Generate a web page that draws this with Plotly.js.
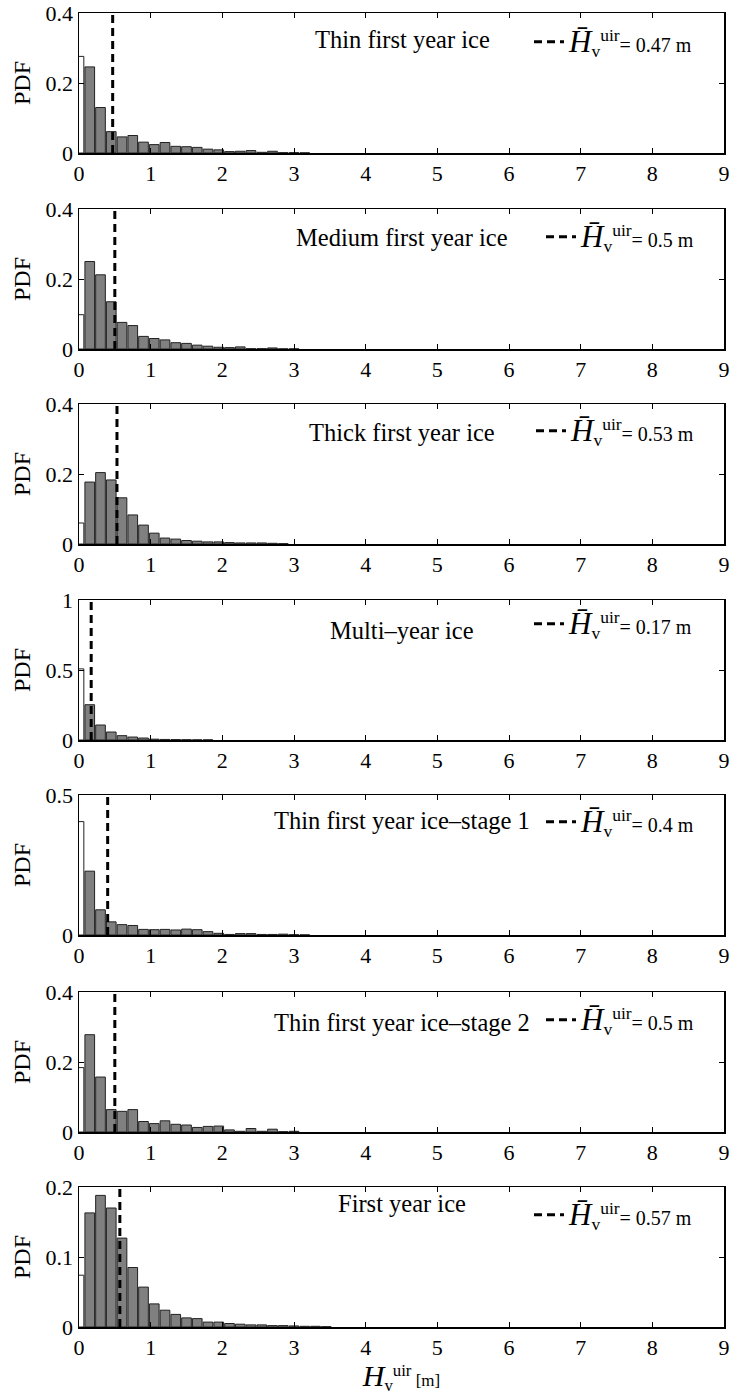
<!DOCTYPE html>
<html>
<head>
<meta charset="utf-8">
<script src="https://cdn.plot.ly/plotly-3.0.1.min.js"></script>
<style>html,body{margin:0;padding:0;background:#fff;}</style>
</head>
<body>
<div id="chart" style="width:736px;height:1395px;"></div>
<script>
// ---- data ----
const panelNames = [
  "Thin first year ice",
  "Medium first year ice",
  "Thick first year ice",
  "Multi–year ice",
  "Thin first year ice–stage 1",
  "Thin first year ice–stage 2",
  "First year ice"
];
const binStart = 0;      // centre of first bin [m]
const binStep = 0.15;    // bin width [m]
const pdfThinFYI = [0.276,0.246,0.130,0.061,0.046,0.050,0.031,0.024,0.030,0.019,0.018,0.016,0.011,0.009,0.004,0.005,0.007,0.002,0.005,0.001,0.001,0.0005];
const pdfMediumFYI = [0.098,0.250,0.212,0.135,0.076,0.067,0.036,0.030,0.026,0.018,0.016,0.011,0.008,0.005,0.004,0.006,0.001,0.001,0.003,0.0005,0.0005];
const pdfThickFYI = [0.060,0.177,0.204,0.183,0.132,0.083,0.054,0.031,0.017,0.014,0.010,0.008,0.006,0.006,0.004,0.003,0.003,0.003,0.002,0.001];
const pdfMYI = [0.508,0.252,0.107,0.057,0.031,0.021,0.014,0.006,0.004,0.003,0.002,0.001,0.001];
const pdfStage1 = [0.405,0.228,0.090,0.047,0.037,0.034,0.020,0.019,0.020,0.018,0.021,0.019,0.012,0.006,0.002,0.005,0.005,0.002,0.002,0.003,0.001,0.0005];
const pdfStage2 = [0.184,0.278,0.157,0.064,0.059,0.064,0.030,0.024,0.032,0.022,0.020,0.013,0.016,0.017,0.006,0.002,0.010,0.002,0.008,0.001,0.002];
const pdfFYI = [0.074,0.163,0.188,0.170,0.127,0.085,0.057,0.033,0.024,0.018,0.013,0.012,0.007,0.007,0.005,0.004,0.003,0.003,0.002,0.002,0.0015,0.001,0.001,0.0005];
const meanHeights = [0.47, 0.5, 0.53, 0.17, 0.4, 0.5, 0.57];
const meanLabels = ["0.47", "0.5", "0.53", "0.17", "0.4", "0.5", "0.57"];
const yMax = [0.4, 0.4, 0.4, 1, 0.5, 0.4, 0.2];
const yDtick = [0.2, 0.2, 0.2, 0.5, 0.5, 0.2, 0.1];
const xTicks = [0,1,2,3,4,5,6,7,8,9];

const allPdf = [pdfThinFYI, pdfMediumFYI, pdfThickFYI, pdfMYI, pdfStage1, pdfStage2, pdfFYI];

// ---- layout geometry (pixels) ----
const W = 736, H = 1395;
const plotLeft = 79, plotRight = 724;
const tops = [13, 209, 404, 600, 795, 992, 1187];
const panelH = 140;
const titleOffset = [27, 28, 28, 30, 25, 30, 16];
const legendLeft = [529, 541, 531, 529, 541, 541, 529];
const legendOffset = [29, 28, 27, 24, 27, 28, 28];

const FONT = "Liberation Serif, Times New Roman, serif";
const traces = [];
const layout = {
  width: W, height: H,
  margin: {l: 0, r: 0, t: 0, b: 0},
  paper_bgcolor: "#fff", plot_bgcolor: "#fff",
  font: {family: FONT, color: "#000", size: 22},
  showlegend: true,
  bargap: 0.1,
  annotations: []
};

for (let i = 0; i < 7; i++) {
  const n = i + 1;
  const xa = n === 1 ? "x" : "x" + n;
  const ya = n === 1 ? "y" : "y" + n;
  const lg = n === 1 ? "legend" : "legend" + n;
  const vals = allPdf[i];
  const colors = vals.map((v, k) => k === 0 ? "#ffffff" : "#808080");
  traces.push({
    type: "bar", x0: binStart, dx: binStep, y: vals,
    xaxis: xa, yaxis: ya, showlegend: false,
    marker: {color: colors, line: {color: "#222", width: 1}},
    hoverinfo: "skip"
  });
  traces.push({
    type: "scatter", mode: "lines",
    x: [meanHeights[i], meanHeights[i]], y: [0, yMax[i]],
    xaxis: xa, yaxis: ya, legend: lg,
    name: '<span style="font-size:31px"><i>H\u0304</i></span><sub>v</sub><sup>uir</sup><span style="font-size:20px">= ' + meanLabels[i] + ' m</span>',
    line: {color: "#000", width: 3, dash: "8px,5px"},
    hoverinfo: "skip"
  });

  const top = tops[i], bot = tops[i] + panelH;
  layout["xaxis" + (n === 1 ? "" : n)] = {
    domain: [plotLeft / W, plotRight / W],
    anchor: ya, range: [0, 9], tickvals: xTicks,
    ticks: "inside", ticklen: 5, tickcolor: "#000", tickwidth: 1,
    mirror: "ticks", showline: true, linecolor: "#000", linewidth: 1.5,
    showgrid: false, zeroline: false,
    tickfont: {family: FONT, size: 22, color: "#000"},
    title: n === 7 ? {
      text: '<span style="font-size:30px"><i>H</i></span><sub>v</sub><sup>uir</sup><span style="font-size:17px"> [m]</span>',
      font: {family: FONT, size: 24, color: "#000"}, standoff: 3
    } : {text: ""}
  };
  layout["yaxis" + (n === 1 ? "" : n)] = {
    domain: [1 - bot / H, 1 - top / H],
    anchor: xa, range: [0, yMax[i]], dtick: yDtick[i], tick0: 0,
    ticks: "inside", ticklen: 5, tickcolor: "#000", tickwidth: 1,
    mirror: "ticks", showline: true, linecolor: "#000", linewidth: 1.5,
    showgrid: false, zeroline: false,
    tickfont: {family: FONT, size: 22, color: "#000"},
    title: {text: "PDF", font: {family: FONT, size: 24, color: "#000"}, standoff: 8}
  };
  layout[lg] = {
    x: legendLeft[i] / W, xanchor: "left",
    y: 1 - (top + legendOffset[i]) / H, yanchor: "middle",
    bgcolor: "rgba(0,0,0,0)", borderwidth: 0,
    font: {family: FONT, size: 25, color: "#000"}
  };
  layout.annotations.push({
    xref: xa + " domain", yref: ya + " domain",
    x: (402 - plotLeft) / (plotRight - plotLeft), y: 1 - titleOffset[i] / panelH,
    xanchor: "center", yanchor: "middle", showarrow: false,
    text: panelNames[i], font: {family: FONT, size: 24.5, color: "#000"}
  });
}

Plotly.newPlot("chart", traces, layout, {displayModeBar: false, staticPlot: true});
</script>
</body>
</html>
